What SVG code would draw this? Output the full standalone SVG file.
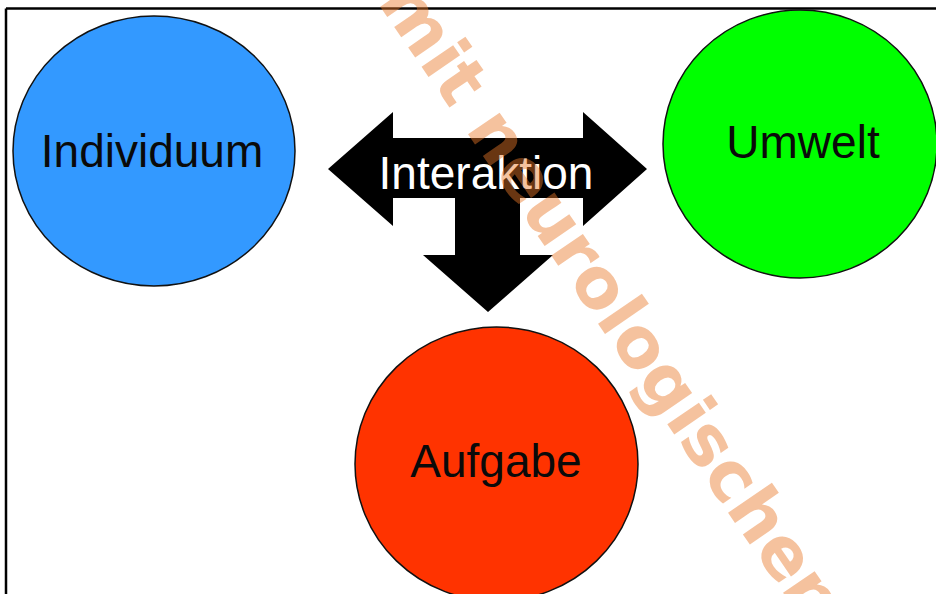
<svg xmlns="http://www.w3.org/2000/svg" width="936" height="594" viewBox="0 0 936 594">
<style>
.node ellipse{stroke:#111;stroke-width:1.5}
.lbl{font-family:"Liberation Sans",Arial,sans-serif;font-size:46px;text-anchor:middle;fill:#0a0a0a}
.wm{font-family:"DejaVu Sans",Verdana,sans-serif;font-weight:bold;font-size:70px;fill:#e87828;fill-opacity:0.45}
</style>
<rect x="0" y="0" width="936" height="594" fill="#fff"/>
<g id="frame" fill="none" stroke="#000" stroke-width="2.5">
<line x1="6" y1="8.5" x2="936" y2="8.5"/>
<line x1="6" y1="8.5" x2="6" y2="594"/>
</g>
<g id="individuum" class="node">
<ellipse cx="154" cy="151" rx="141" ry="135" fill="#3399ff"/>
<text class="lbl" x="152" y="167">Individuum</text>
</g>
<g id="umwelt" class="node">
<ellipse cx="800" cy="144" rx="137" ry="134" fill="#00ff00"/>
<text class="lbl" x="803" y="158">Umwelt</text>
</g>
<g id="aufgabe" class="node">
<ellipse cx="496.5" cy="464" rx="141.5" ry="137" fill="#ff3300"/>
<text class="lbl" x="496" y="477">Aufgabe</text>
</g>
<g id="connectors">
<polygon fill="#000" points="328,169 393,112 393,138 583,138 583,112 647,169 583,226 583,198 520,198 520,255 553,255 488,312 423,255 455,255 455,198 393,198 393,226"/>
<text class="lbl" x="486" y="189" style="fill:#fff">Interaktion</text>
</g>
<text class="wm" transform="translate(377,2) rotate(55.5)">mit neurologischen</text>
</svg>
